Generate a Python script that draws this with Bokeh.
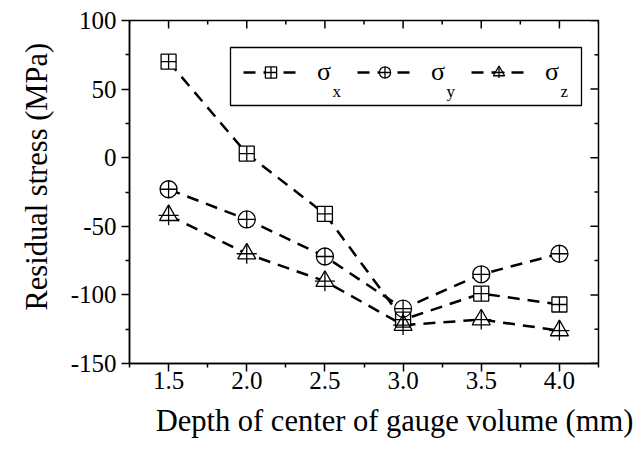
import math
from bokeh.plotting import figure
from bokeh.models import (Legend, LegendItem, FixedTicker, PrintfTickFormatter,
                          Label, BoxAnnotation, Range1d)
from bokeh.embed import file_html
from bokeh.resources import INLINE

# ---- data ----
depth = [1.5, 2.0, 2.5, 3.0, 3.5, 4.0]
sigma_x = [70, 3, -41, -118, -99, -107]
sigma_y = [-23, -45, -72, -110, -85, -70]
sigma_z = [-42, -70, -90, -122, -118, -126]
x_ticks = [1.5, 2.0, 2.5, 3.0, 3.5, 4.0]
x_minor = [1.25, 1.75, 2.25, 2.75, 3.25, 3.75, 4.25]
y_ticks = [-150, -100, -50, 0, 50, 100]
y_minor = [-125, -75, -25, 25, 75]
subscripts = ["x", "y", "z"]
x_lim = (1.25, 4.25)
y_lim = (-150, 100)

FONT = "Liberation Serif"
NB = "\u00a0"

p = figure(frame_width=469, frame_height=343,
           min_border_left=129, min_border_right=42,
           min_border_top=20, min_border_bottom=92,
           x_range=Range1d(*x_lim), y_range=Range1d(*y_lim),
           output_backend="svg", toolbar_location=None)
p.grid.visible = False
p.outline_line_color = "black"
p.outline_line_width = 1.5
p.background_fill_color = "white"
p.border_fill_color = "white"

for ax in (p.xaxis[0], p.yaxis[0]):
    ax.axis_line_width = 1.5
    ax.axis_line_color = "black"
    ax.major_tick_line_width = 1.5
    ax.minor_tick_line_width = 1.5
    ax.major_tick_in, ax.major_tick_out = 0, 8
    ax.minor_tick_in, ax.minor_tick_out = 0, 4
    ax.major_label_text_font = FONT
    ax.major_label_text_font_size = "25px"
    ax.major_label_text_color = "black"
    ax.axis_label_text_font = FONT
    ax.axis_label_text_font_size = "30.5px"
    ax.axis_label_text_font_style = "normal"
    ax.axis_label_text_color = "black"

p.xaxis.ticker = FixedTicker(ticks=x_ticks, minor_ticks=x_minor)
p.yaxis.ticker = FixedTicker(ticks=y_ticks, minor_ticks=y_minor)
p.xaxis.formatter = PrintfTickFormatter(format="%.1f")
p.yaxis.formatter = PrintfTickFormatter(format="%d")
p.xaxis.axis_label = NB * 8 + "Depth of center of gauge volume (mm)"
p.yaxis.axis_label = NB * 4 + "Residual stress (MPa)"
p.xaxis.major_label_standoff = 0
p.yaxis.major_label_standoff = 5
p.xaxis.axis_label_standoff = 12
p.yaxis.axis_label_standoff = 14

# inward ticks on the top and right frame edges (clipped to the frame)
tick_kw = dict(marker="dash", line_color="black", line_width=1.5)
p.scatter(x_ticks, [y_lim[1]] * len(x_ticks), size=16, angle=math.pi / 2, **tick_kw)
p.scatter(x_minor, [y_lim[1]] * len(x_minor), size=8, angle=math.pi / 2, **tick_kw)
p.scatter([x_lim[1]] * len(y_ticks), y_ticks, size=16, **tick_kw)
p.scatter([x_lim[1]] * len(y_minor), y_minor, size=8, **tick_kw)

DASH = "12 8"
LW = 2.5
series = [sigma_x, sigma_y, sigma_z]
lines = [p.line(depth, s, line_color="black", line_width=LW, line_dash=DASH) for s in series]

bg_x = p.scatter(depth, sigma_x, marker="square", size=15, fill_color="white", line_color=None)
bg_y = p.scatter(depth, sigma_y, marker="circle", size=17, fill_color="white", line_color=None)
bg_z = p.scatter(depth, sigma_z, marker="triangle", size=18, fill_color="white", line_color=None)

mk_x = p.scatter(depth, sigma_x, marker="square_cross", size=15, fill_color=None,
                 line_color="black", line_width=1.3)
mk_y = p.scatter(depth, sigma_y, marker="circle_cross", size=17, fill_color=None,
                 line_color="black", line_width=1.3)
mk_z = p.scatter(depth, sigma_z, marker="triangle", size=18, fill_color=None,
                 line_color="black", line_width=1.3)
mk_z2 = p.scatter(depth, sigma_z, marker="cross", size=20, fill_color=None,
                  line_color="black", line_width=1.3)

items = [
    LegendItem(label="σ", renderers=[lines[0], bg_x, mk_x]),
    LegendItem(label="σ", renderers=[lines[1], bg_y, mk_y]),
    LegendItem(label="σ", renderers=[lines[2], bg_z, mk_z, mk_z2]),
]
legend = Legend(items=items, orientation="horizontal", location=(114, 276),
                glyph_width=55, glyph_height=28, label_standoff=19, label_width=40,
                spacing=0, padding=0, margin=0,
                border_line_color=None, background_fill_alpha=0,
                label_text_font=FONT, label_text_font_size="26px",
                label_text_color="black")
p.add_layout(legend, "center")

box = BoxAnnotation(left=101, right=452, top=316, bottom=258,
                    left_units="screen", right_units="screen",
                    top_units="screen", bottom_units="screen",
                    fill_alpha=0, line_color="black", line_width=1.3,
                    line_alpha=1)
p.add_layout(box)

for i, s in enumerate(subscripts):
    p.add_layout(Label(x=203 + 114 * i, y=272, x_units="screen", y_units="screen",
                       text=s, text_font=FONT, text_font_size="17px",
                       text_color="black", text_baseline="alphabetic"))

open("out.html", "w").write(file_html(p, INLINE))
